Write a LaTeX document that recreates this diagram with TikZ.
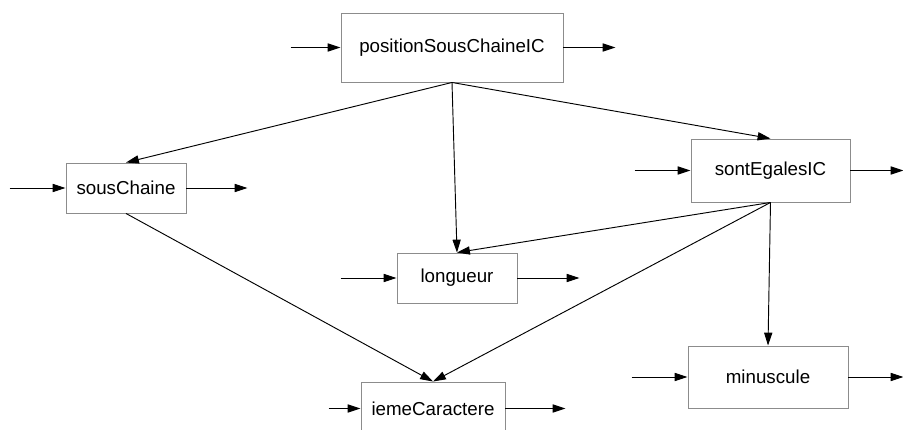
\documentclass[tikz,border=0pt]{standalone}
\usepackage{fontspec}
\setmainfont{Liberation Sans}
\usetikzlibrary{arrows.meta}

\tikzset{
  blk/.style 2 args={draw=black!45, line width=0.8pt, minimum width=#1, minimum height=#2,
    inner sep=0pt, font=\fontsize{16}{19}\selectfont},
  flow/.style={-{Triangle[length=11pt,width=7pt]}, line width=0.8pt},
}

\begin{document}
\begin{tikzpicture}[x=0.03cm,y=-0.03cm]
  %%%%% START %%%%%
  \useasboundingbox (0,0) rectangle (903,430);
  \clip (0,0) rectangle (903,430);

  % les fonctions
  \node[blk={6.66cm}{2.07cm}] (pos)  at (452,47.5)  {positionSousChaineIC};
  \node[blk={3.6cm}{1.5cm}]   (sous) at (126,188)   {sousChaine};
  \node[blk={4.77cm}{1.89cm}] (egal) at (770.5,170.5) {sontEgalesIC};
  \node[blk={3.6cm}{1.5cm}]   (long) at (457,278)   {longueur};
  \node[blk={4.32cm}{1.59cm}] (ieme) at (433,408.5) {iemeCaractere};
  \node[blk={4.8cm}{1.86cm}]  (minu) at (768,377)   {minuscule};

  % entrees et sorties
  \foreach \n/\a/\b in {pos/50/52, sous/56/61, egal/56/53, long/56/62, ieme/32/60, minu/56/55}{
    \coordinate (\n-in)  at ([xshift=-\a*0.03cm]\n.west);
    \coordinate (\n-out) at ([xshift=\b*0.03cm]\n.east);
    \draw[flow] (\n-in) -- (\n.west);
    \draw[flow] (\n.east) -- (\n-out);
  }

  % appels
  \draw[flow] (pos.south) -- (sous.north);
  \draw[flow] (pos.south) -- (long.north);
  \draw[flow] (pos.south) -- (egal.north);
  \draw[flow] (egal.south) -- (long.north);
  \draw[flow] (egal.south) -- (ieme.north);
  \draw[flow] (egal.south) -- (minu.north);
  \draw[flow] (sous.south) -- (ieme.north);
  %%%%% END %%%%%
\end{tikzpicture}
\end{document}
